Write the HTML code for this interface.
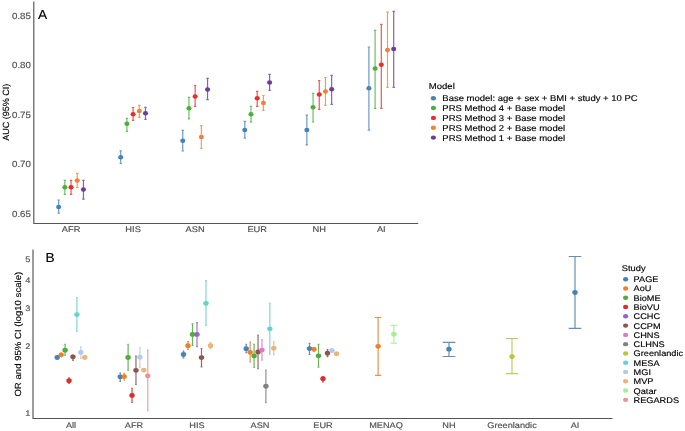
<!DOCTYPE html>
<html><head><meta charset="utf-8"><title>AUC and OR by ancestry</title>
<style>
html,body{margin:0;padding:0;background:#fff;}
body{width:685px;height:431px;overflow:hidden;}
svg{display:block;font-family:"Liberation Sans", sans-serif;will-change:transform;text-rendering:geometricPrecision;}
text{stroke-width:0.15px;stroke-linejoin:round;}
</style></head><body>
<svg width="685" height="431" viewBox="0 0 685 431">
<rect width="685" height="431" fill="#ffffff"/>
<path d="M33.8 1.4V223.5H418.2" fill="none" stroke="#555555" stroke-width="1.15" stroke-linejoin="round"/>
<text transform="translate(30.9,18.6) scale(1.08,1)" font-size="8.98" text-anchor="end" fill="#4d4d4d" stroke="#4d4d4d">0.85</text>
<text transform="translate(30.9,68.2) scale(1.08,1)" font-size="8.98" text-anchor="end" fill="#4d4d4d" stroke="#4d4d4d">0.80</text>
<text transform="translate(30.9,117.8) scale(1.08,1)" font-size="8.98" text-anchor="end" fill="#4d4d4d" stroke="#4d4d4d">0.75</text>
<text transform="translate(30.9,167.3) scale(1.08,1)" font-size="8.98" text-anchor="end" fill="#4d4d4d" stroke="#4d4d4d">0.70</text>
<text transform="translate(30.9,216.6) scale(1.08,1)" font-size="8.98" text-anchor="end" fill="#4d4d4d" stroke="#4d4d4d">0.65</text>
<text transform="translate(71.05,232) scale(1.13,1)" font-size="8.23" text-anchor="middle" fill="#4d4d4d" stroke="#4d4d4d">AFR</text>
<text transform="translate(133.1,232) scale(1.13,1)" font-size="8.23" text-anchor="middle" fill="#4d4d4d" stroke="#4d4d4d">HIS</text>
<text transform="translate(195.15,232) scale(1.13,1)" font-size="8.23" text-anchor="middle" fill="#4d4d4d" stroke="#4d4d4d">ASN</text>
<text transform="translate(257.2,232) scale(1.13,1)" font-size="8.23" text-anchor="middle" fill="#4d4d4d" stroke="#4d4d4d">EUR</text>
<text transform="translate(319.25,232) scale(1.13,1)" font-size="8.23" text-anchor="middle" fill="#4d4d4d" stroke="#4d4d4d">NH</text>
<text transform="translate(381.3,232) scale(1.13,1)" font-size="8.23" text-anchor="middle" fill="#4d4d4d" stroke="#4d4d4d">AI</text>
<text transform="translate(8.5,112.3) scale(1.0,1) rotate(-90)" font-size="9" text-anchor="middle" fill="#000" stroke="#000">AUC (95% CI)</text>
<text transform="translate(38,18.7) scale(1.05,1)" font-size="13.05" fill="#000" stroke="#000">A</text>
<path d="M57.45 200H59.85M58.65 200V213.1M57.45 213.1H59.85" stroke="#4682b4" stroke-width="1.2" stroke-opacity="0.8" fill="none"/>
<path d="M63.65 180.3H66.05M64.85 180.3V194.4M63.65 194.4H66.05" stroke="#4dae40" stroke-width="1.2" stroke-opacity="0.8" fill="none"/>
<path d="M69.85 180.3H72.25M71.05 180.3V194.4M69.85 194.4H72.25" stroke="#e3312a" stroke-width="1.2" stroke-opacity="0.8" fill="none"/>
<path d="M76.05 173.4H78.45M77.25 173.4V187.4M76.05 187.4H78.45" stroke="#ed8333" stroke-width="1.2" stroke-opacity="0.8" fill="none"/>
<path d="M82.25 180.3H84.65M83.45 180.3V199.2M82.25 199.2H84.65" stroke="#6b3c9c" stroke-width="1.2" stroke-opacity="0.8" fill="none"/>
<path d="M119.5 150.8H121.9M120.7 150.8V163.5M119.5 163.5H121.9" stroke="#4682b4" stroke-width="1.2" stroke-opacity="0.8" fill="none"/>
<path d="M125.7 118.3H128.1M126.9 118.3V131.3M125.7 131.3H128.1" stroke="#4dae40" stroke-width="1.2" stroke-opacity="0.8" fill="none"/>
<path d="M131.9 107.5H134.3M133.1 107.5V120.3M131.9 120.3H134.3" stroke="#e3312a" stroke-width="1.2" stroke-opacity="0.8" fill="none"/>
<path d="M138.1 105.3H140.5M139.3 105.3V117.3M138.1 117.3H140.5" stroke="#ed8333" stroke-width="1.2" stroke-opacity="0.8" fill="none"/>
<path d="M144.3 107.3H146.7M145.5 107.3V119.3M144.3 119.3H146.7" stroke="#6b3c9c" stroke-width="1.2" stroke-opacity="0.8" fill="none"/>
<path d="M181.55 130.3H183.95M182.75 130.3V151M181.55 151H183.95" stroke="#4682b4" stroke-width="1.2" stroke-opacity="0.8" fill="none"/>
<path d="M187.75 97.4H190.15M188.95 97.4V118.8M187.75 118.8H190.15" stroke="#4dae40" stroke-width="1.2" stroke-opacity="0.8" fill="none"/>
<path d="M193.95 85.5H196.35M195.15 85.5V106.3M193.95 106.3H196.35" stroke="#e3312a" stroke-width="1.2" stroke-opacity="0.8" fill="none"/>
<path d="M200.15 125.7H202.55M201.35 125.7V148.5M200.15 148.5H202.55" stroke="#ed8333" stroke-width="1.2" stroke-opacity="0.8" fill="none"/>
<path d="M206.35 78.3H208.75M207.55 78.3V99.6M206.35 99.6H208.75" stroke="#6b3c9c" stroke-width="1.2" stroke-opacity="0.8" fill="none"/>
<path d="M243.6 121.3H246M244.8 121.3V138.2M243.6 138.2H246" stroke="#4682b4" stroke-width="1.2" stroke-opacity="0.8" fill="none"/>
<path d="M249.8 106.4H252.2M251 106.4V122.2M249.8 122.2H252.2" stroke="#4dae40" stroke-width="1.2" stroke-opacity="0.8" fill="none"/>
<path d="M256 91.4H258.4M257.2 91.4V106.4M256 106.4H258.4" stroke="#e3312a" stroke-width="1.2" stroke-opacity="0.8" fill="none"/>
<path d="M262.2 95.5H264.6M263.4 95.5V110.3M262.2 110.3H264.6" stroke="#ed8333" stroke-width="1.2" stroke-opacity="0.8" fill="none"/>
<path d="M268.4 74.4H270.8M269.6 74.4V90.4M268.4 90.4H270.8" stroke="#6b3c9c" stroke-width="1.2" stroke-opacity="0.8" fill="none"/>
<path d="M305.65 115.2H308.05M306.85 115.2V144.9M305.65 144.9H308.05" stroke="#4682b4" stroke-width="1.2" stroke-opacity="0.8" fill="none"/>
<path d="M311.85 93.4H314.25M313.05 93.4V122M311.85 122H314.25" stroke="#4dae40" stroke-width="1.2" stroke-opacity="0.8" fill="none"/>
<path d="M318.05 80.5H320.45M319.25 80.5V109.4M318.05 109.4H320.45" stroke="#e3312a" stroke-width="1.2" stroke-opacity="0.8" fill="none"/>
<path d="M324.25 77.5H326.65M325.45 77.5V105.3M324.25 105.3H326.65" stroke="#ed8333" stroke-width="1.2" stroke-opacity="0.8" fill="none"/>
<path d="M330.45 75.4H332.85M331.65 75.4V104.4M330.45 104.4H332.85" stroke="#6b3c9c" stroke-width="1.2" stroke-opacity="0.8" fill="none"/>
<path d="M367.7 47H370.1M368.9 47V130.2M367.7 130.2H370.1" stroke="#4682b4" stroke-width="1.2" stroke-opacity="0.8" fill="none"/>
<path d="M373.9 30.4H376.3M375.1 30.4V108.3M373.9 108.3H376.3" stroke="#4dae40" stroke-width="1.2" stroke-opacity="0.8" fill="none"/>
<path d="M380.1 24.4H382.5M381.3 24.4V108.3M380.1 108.3H382.5" stroke="#e3312a" stroke-width="1.2" stroke-opacity="0.8" fill="none"/>
<path d="M386.3 12.2H388.7M387.5 12.2V87.4M386.3 87.4H388.7" stroke="#ed8333" stroke-width="1.2" stroke-opacity="0.8" fill="none"/>
<path d="M392.5 11.4H394.9M393.7 11.4V87.4M392.5 87.4H394.9" stroke="#6b3c9c" stroke-width="1.2" stroke-opacity="0.8" fill="none"/>
<ellipse cx="58.65" cy="207" rx="2.55" ry="2.25" fill="#4682B4"/>
<ellipse cx="64.85" cy="187.2" rx="2.55" ry="2.25" fill="#4DAE40"/>
<ellipse cx="71.05" cy="187.2" rx="2.55" ry="2.25" fill="#E3312A"/>
<ellipse cx="77.25" cy="180.4" rx="2.55" ry="2.25" fill="#ED8333"/>
<ellipse cx="83.45" cy="189.5" rx="2.55" ry="2.25" fill="#6B3C9C"/>
<ellipse cx="120.7" cy="157.3" rx="2.55" ry="2.25" fill="#4682B4"/>
<ellipse cx="126.9" cy="123.8" rx="2.55" ry="2.25" fill="#4DAE40"/>
<ellipse cx="133.1" cy="114.2" rx="2.55" ry="2.25" fill="#E3312A"/>
<ellipse cx="139.3" cy="111" rx="2.55" ry="2.25" fill="#ED8333"/>
<ellipse cx="145.5" cy="113.2" rx="2.55" ry="2.25" fill="#6B3C9C"/>
<ellipse cx="182.75" cy="140.8" rx="2.55" ry="2.25" fill="#4682B4"/>
<ellipse cx="188.95" cy="108.2" rx="2.55" ry="2.25" fill="#4DAE40"/>
<ellipse cx="195.15" cy="96.5" rx="2.55" ry="2.25" fill="#E3312A"/>
<ellipse cx="201.35" cy="136.9" rx="2.55" ry="2.25" fill="#ED8333"/>
<ellipse cx="207.55" cy="89.4" rx="2.55" ry="2.25" fill="#6B3C9C"/>
<ellipse cx="244.8" cy="130.1" rx="2.55" ry="2.25" fill="#4682B4"/>
<ellipse cx="251" cy="114.3" rx="2.55" ry="2.25" fill="#4DAE40"/>
<ellipse cx="257.2" cy="98.3" rx="2.55" ry="2.25" fill="#E3312A"/>
<ellipse cx="263.4" cy="103.1" rx="2.55" ry="2.25" fill="#ED8333"/>
<ellipse cx="269.6" cy="82.6" rx="2.55" ry="2.25" fill="#6B3C9C"/>
<ellipse cx="306.85" cy="130" rx="2.55" ry="2.25" fill="#4682B4"/>
<ellipse cx="313.05" cy="107.3" rx="2.55" ry="2.25" fill="#4DAE40"/>
<ellipse cx="319.25" cy="94.4" rx="2.55" ry="2.25" fill="#E3312A"/>
<ellipse cx="325.45" cy="91.4" rx="2.55" ry="2.25" fill="#ED8333"/>
<ellipse cx="331.65" cy="89.2" rx="2.55" ry="2.25" fill="#6B3C9C"/>
<ellipse cx="368.9" cy="88.2" rx="2.55" ry="2.25" fill="#4682B4"/>
<ellipse cx="375.1" cy="68.5" rx="2.55" ry="2.25" fill="#4DAE40"/>
<ellipse cx="381.3" cy="64.7" rx="2.55" ry="2.25" fill="#E3312A"/>
<ellipse cx="387.5" cy="49.9" rx="2.55" ry="2.25" fill="#ED8333"/>
<ellipse cx="393.7" cy="48.9" rx="2.55" ry="2.25" fill="#6B3C9C"/>
<text transform="translate(428.8,89.3) scale(1.13,1)" font-size="8.45" fill="#000" stroke="#000">Model</text>
<ellipse cx="433.4" cy="98.2" rx="2.6" ry="2.2" fill="#4682B4"/>
<text transform="translate(442.3,101.3) scale(1.13,1)" font-size="8.41" fill="#000" stroke="#000">Base model: age + sex + BMI + study + 10 PC</text>
<ellipse cx="433.4" cy="108.05" rx="2.6" ry="2.2" fill="#4DAE40"/>
<text transform="translate(442.3,111.15) scale(1.13,1)" font-size="8.41" fill="#000" stroke="#000">PRS Method 4 + Base model</text>
<ellipse cx="433.4" cy="117.9" rx="2.6" ry="2.2" fill="#E3312A"/>
<text transform="translate(442.3,121) scale(1.13,1)" font-size="8.41" fill="#000" stroke="#000">PRS Method 3 + Base model</text>
<ellipse cx="433.4" cy="127.75" rx="2.6" ry="2.2" fill="#ED8333"/>
<text transform="translate(442.3,130.85) scale(1.13,1)" font-size="8.41" fill="#000" stroke="#000">PRS Method 2 + Base model</text>
<ellipse cx="433.4" cy="137.6" rx="2.6" ry="2.2" fill="#6B3C9C"/>
<text transform="translate(442.3,140.7) scale(1.13,1)" font-size="8.41" fill="#000" stroke="#000">PRS Method 1 + Base model</text>
<path d="M33.0 249.4V418.5H612.5" fill="none" stroke="#555555" stroke-width="1.15" stroke-linejoin="round"/>
<text transform="translate(30.4,415.6) scale(1.13,1)" font-size="8.14" text-anchor="end" fill="#4d4d4d" stroke="#4d4d4d">1</text>
<text transform="translate(30.4,349.43) scale(1.13,1)" font-size="8.14" text-anchor="end" fill="#4d4d4d" stroke="#4d4d4d">2</text>
<text transform="translate(30.4,310.73) scale(1.13,1)" font-size="8.14" text-anchor="end" fill="#4d4d4d" stroke="#4d4d4d">3</text>
<text transform="translate(30.4,283.27) scale(1.13,1)" font-size="8.14" text-anchor="end" fill="#4d4d4d" stroke="#4d4d4d">4</text>
<text transform="translate(30.4,261.97) scale(1.13,1)" font-size="8.14" text-anchor="end" fill="#4d4d4d" stroke="#4d4d4d">5</text>
<text transform="translate(71,428) scale(1.13,1)" font-size="8.14" text-anchor="middle" fill="#4d4d4d" stroke="#4d4d4d">All</text>
<text transform="translate(134,428) scale(1.13,1)" font-size="8.14" text-anchor="middle" fill="#4d4d4d" stroke="#4d4d4d">AFR</text>
<text transform="translate(197,428) scale(1.13,1)" font-size="8.14" text-anchor="middle" fill="#4d4d4d" stroke="#4d4d4d">HIS</text>
<text transform="translate(260,428) scale(1.13,1)" font-size="8.14" text-anchor="middle" fill="#4d4d4d" stroke="#4d4d4d">ASN</text>
<text transform="translate(323,428) scale(1.13,1)" font-size="8.14" text-anchor="middle" fill="#4d4d4d" stroke="#4d4d4d">EUR</text>
<text transform="translate(386,428) scale(1.13,1)" font-size="8.14" text-anchor="middle" fill="#4d4d4d" stroke="#4d4d4d">MENAQ</text>
<text transform="translate(449,428) scale(1.13,1)" font-size="8.14" text-anchor="middle" fill="#4d4d4d" stroke="#4d4d4d">NH</text>
<text transform="translate(512,428) scale(1.13,1)" font-size="8.14" text-anchor="middle" fill="#4d4d4d" stroke="#4d4d4d">Greenlandic</text>
<text transform="translate(575,428) scale(1.13,1)" font-size="8.14" text-anchor="middle" fill="#4d4d4d" stroke="#4d4d4d">AI</text>
<text transform="translate(21.25,334.2) scale(0.92,1) rotate(-90)" font-size="9.6" text-anchor="middle" fill="#000" stroke="#000">OR and 95% CI (log10 scale)</text>
<text transform="translate(45.5,262.1) scale(1.05,1)" font-size="13.05" fill="#000" stroke="#000">B</text>
<path d="M56.43 355.6H58.01M57.22 355.6V359.2M56.43 359.2H58.01" stroke="#4e80a9" stroke-width="1.2" stroke-opacity="0.88" fill="none"/>
<path d="M60.37 353H61.94M61.16 353V356.6M60.37 356.6H61.94" stroke="#de853b" stroke-width="1.2" stroke-opacity="0.88" fill="none"/>
<path d="M64.31 344.4H65.88M65.09 344.4V355.5M64.31 355.5H65.88" stroke="#59a646" stroke-width="1.2" stroke-opacity="0.88" fill="none"/>
<path d="M68.24 377.8H69.82M69.03 377.8V383.5M68.24 383.5H69.82" stroke="#c33737" stroke-width="1.2" stroke-opacity="0.88" fill="none"/>
<path d="M72.18 355H73.76M72.97 355V360.3M72.18 360.3H73.76" stroke="#845853" stroke-width="1.2" stroke-opacity="0.88" fill="none"/>
<path d="M76.12 297.5H77.69M76.91 297.5V331.4M76.12 331.4H77.69" stroke="#72cdcd" stroke-width="1.2" stroke-opacity="0.88" fill="none"/>
<path d="M80.06 346.7H81.63M80.84 346.7V358.4M80.06 358.4H81.63" stroke="#b6cae4" stroke-width="1.2" stroke-opacity="0.88" fill="none"/>
<path d="M83.99 355.8H85.57M84.78 355.8V359M83.99 359H85.57" stroke="#e4b686" stroke-width="1.2" stroke-opacity="0.88" fill="none"/>
<path d="M119.43 373.2H121.01M120.22 373.2V381.3M119.43 381.3H121.01" stroke="#4e80a9" stroke-width="1.2" stroke-opacity="0.88" fill="none"/>
<path d="M123.37 373.3H124.94M124.16 373.3V380M123.37 380H124.94" stroke="#de853b" stroke-width="1.2" stroke-opacity="0.88" fill="none"/>
<path d="M127.31 344.4H128.88M128.09 344.4V370.5M127.31 370.5H128.88" stroke="#59a646" stroke-width="1.2" stroke-opacity="0.88" fill="none"/>
<path d="M131.24 388.4H132.82M132.03 388.4V402.4M131.24 402.4H132.82" stroke="#c33737" stroke-width="1.2" stroke-opacity="0.88" fill="none"/>
<path d="M135.18 356.2H136.76M135.97 356.2V384.4M135.18 384.4H136.76" stroke="#845853" stroke-width="1.2" stroke-opacity="0.88" fill="none"/>
<path d="M139.12 347.3H140.69M139.91 347.3V367.4M139.12 367.4H140.69" stroke="#b6cae4" stroke-width="1.2" stroke-opacity="0.88" fill="none"/>
<path d="M143.06 368.5H144.63M143.84 368.5V371.7M143.06 371.7H144.63" stroke="#e4b686" stroke-width="1.2" stroke-opacity="0.88" fill="none"/>
<path d="M146.99 350.1H148.57M147.78 350.1V410.6M146.99 410.6H148.57" stroke="#e39797" stroke-width="1.2" stroke-opacity="0.88" fill="none"/>
<path d="M182.6 351H184.4M183.5 351V357.8M182.6 357.8H184.4" stroke="#4e80a9" stroke-width="1.2" stroke-opacity="0.88" fill="none"/>
<path d="M187.1 341.6H188.9M188 341.6V349.5M187.1 349.5H188.9" stroke="#de853b" stroke-width="1.2" stroke-opacity="0.88" fill="none"/>
<path d="M191.6 323.9H193.4M192.5 323.9V345.4M191.6 345.4H193.4" stroke="#59a646" stroke-width="1.2" stroke-opacity="0.88" fill="none"/>
<path d="M196.1 322.7H197.9M197 322.7V346.7M196.1 346.7H197.9" stroke="#9069b9" stroke-width="1.2" stroke-opacity="0.88" fill="none"/>
<path d="M200.6 348.5H202.4M201.5 348.5V366.8M200.6 366.8H202.4" stroke="#845853" stroke-width="1.2" stroke-opacity="0.88" fill="none"/>
<path d="M205.1 280.5H206.9M206 280.5V325.5M205.1 325.5H206.9" stroke="#72cdcd" stroke-width="1.2" stroke-opacity="0.88" fill="none"/>
<path d="M209.6 342.6H211.4M210.5 342.6V348.8M209.6 348.8H211.4" stroke="#e4b686" stroke-width="1.2" stroke-opacity="0.88" fill="none"/>
<path d="M245.43 344.3H247.01M246.22 344.3V352.6M245.43 352.6H247.01" stroke="#4e80a9" stroke-width="1.2" stroke-opacity="0.88" fill="none"/>
<path d="M249.37 342.1H250.94M250.16 342.1V361.9M249.37 361.9H250.94" stroke="#de853b" stroke-width="1.2" stroke-opacity="0.88" fill="none"/>
<path d="M253.31 344.3H254.88M254.09 344.3V367.3M253.31 367.3H254.88" stroke="#59a646" stroke-width="1.2" stroke-opacity="0.88" fill="none"/>
<path d="M257.24 335.2H258.82M258.03 335.2V368.6M257.24 368.6H258.82" stroke="#845853" stroke-width="1.2" stroke-opacity="0.88" fill="none"/>
<path d="M261.18 339.6H262.76M261.97 339.6V360.2M261.18 360.2H262.76" stroke="#d280c4" stroke-width="1.2" stroke-opacity="0.88" fill="none"/>
<path d="M265.12 370.2H266.69M265.91 370.2V402.7M265.12 402.7H266.69" stroke="#808280" stroke-width="1.2" stroke-opacity="0.88" fill="none"/>
<path d="M269.06 303.4H270.63M269.84 303.4V354.2M269.06 354.2H270.63" stroke="#72cdcd" stroke-width="1.2" stroke-opacity="0.88" fill="none"/>
<path d="M272.99 341.5H274.57M273.78 341.5V354.7M272.99 354.7H274.57" stroke="#e4b686" stroke-width="1.2" stroke-opacity="0.88" fill="none"/>
<path d="M308.6 343.3H310.4M309.5 343.3V354.4M308.6 354.4H310.4" stroke="#4e80a9" stroke-width="1.2" stroke-opacity="0.88" fill="none"/>
<path d="M313.1 347.6H314.9M314 347.6V351M313.1 351H314.9" stroke="#de853b" stroke-width="1.2" stroke-opacity="0.88" fill="none"/>
<path d="M317.6 344.3H319.4M318.5 344.3V367.1M317.6 367.1H319.4" stroke="#59a646" stroke-width="1.2" stroke-opacity="0.88" fill="none"/>
<path d="M322.1 376.5H323.9M323 376.5V381.9M322.1 381.9H323.9" stroke="#c33737" stroke-width="1.2" stroke-opacity="0.88" fill="none"/>
<path d="M326.6 349.7H328.4M327.5 349.7V356.6M326.6 356.6H328.4" stroke="#845853" stroke-width="1.2" stroke-opacity="0.88" fill="none"/>
<path d="M331.1 349H332.9M332 349V352.2M331.1 352.2H332.9" stroke="#b6cae4" stroke-width="1.2" stroke-opacity="0.88" fill="none"/>
<path d="M335.6 352.2H337.4M336.5 352.2V355.4M335.6 355.4H337.4" stroke="#e4b686" stroke-width="1.2" stroke-opacity="0.88" fill="none"/>
<path d="M374.98 317.5H381.27M378.12 317.5V375.3M374.98 375.3H381.27" stroke="#de853b" stroke-width="1.2" stroke-opacity="0.88" fill="none"/>
<path d="M390.73 325.4H397.02M393.88 325.4V343.1M390.73 343.1H397.02" stroke="#ade99d" stroke-width="1.2" stroke-opacity="0.88" fill="none"/>
<path d="M442.7 342.3H455.3M449 342.3V356.5M442.7 356.5H455.3" stroke="#4e80a9" stroke-width="1.2" stroke-opacity="0.88" fill="none"/>
<path d="M505.7 338.5H518.3M512 338.5V373.7M505.7 373.7H518.3" stroke="#b8c250" stroke-width="1.2" stroke-opacity="0.88" fill="none"/>
<path d="M568.7 256.5H581.3M575 256.5V328.3M568.7 328.3H581.3" stroke="#4e80a9" stroke-width="1.2" stroke-opacity="0.88" fill="none"/>
<ellipse cx="57.22" cy="357.4" rx="2.7" ry="2.4" fill="#4483B6"/>
<ellipse cx="61.16" cy="354.8" rx="2.7" ry="2.4" fill="#F08024"/>
<ellipse cx="65.09" cy="350.2" rx="2.7" ry="2.4" fill="#4EAF37"/>
<ellipse cx="69.03" cy="380.7" rx="2.7" ry="2.4" fill="#DC2D2D"/>
<ellipse cx="72.97" cy="356.8" rx="2.7" ry="2.4" fill="#8C554E"/>
<ellipse cx="76.91" cy="314.6" rx="2.7" ry="2.4" fill="#62D4D4"/>
<ellipse cx="80.84" cy="352.4" rx="2.7" ry="2.4" fill="#B2CBEB"/>
<ellipse cx="84.78" cy="357.4" rx="2.7" ry="2.4" fill="#EDB478"/>
<ellipse cx="120.22" cy="376.8" rx="2.7" ry="2.4" fill="#4483B6"/>
<ellipse cx="124.16" cy="376.6" rx="2.7" ry="2.4" fill="#F08024"/>
<ellipse cx="128.09" cy="357.4" rx="2.7" ry="2.4" fill="#4EAF37"/>
<ellipse cx="132.03" cy="395.4" rx="2.7" ry="2.4" fill="#DC2D2D"/>
<ellipse cx="135.97" cy="370.3" rx="2.7" ry="2.4" fill="#8C554E"/>
<ellipse cx="139.91" cy="357.2" rx="2.7" ry="2.4" fill="#B2CBEB"/>
<ellipse cx="143.84" cy="370.1" rx="2.7" ry="2.4" fill="#EDB478"/>
<ellipse cx="147.78" cy="375.8" rx="2.7" ry="2.4" fill="#F09191"/>
<ellipse cx="183.5" cy="354.4" rx="2.7" ry="2.4" fill="#4483B6"/>
<ellipse cx="188" cy="345.7" rx="2.7" ry="2.4" fill="#F08024"/>
<ellipse cx="192.5" cy="334.4" rx="2.7" ry="2.4" fill="#4EAF37"/>
<ellipse cx="197" cy="334.4" rx="2.7" ry="2.4" fill="#9464C8"/>
<ellipse cx="201.5" cy="357.6" rx="2.7" ry="2.4" fill="#8C554E"/>
<ellipse cx="206" cy="303.3" rx="2.7" ry="2.4" fill="#62D4D4"/>
<ellipse cx="210.5" cy="345.7" rx="2.7" ry="2.4" fill="#EDB478"/>
<ellipse cx="246.22" cy="348.7" rx="2.7" ry="2.4" fill="#4483B6"/>
<ellipse cx="250.16" cy="352.3" rx="2.7" ry="2.4" fill="#F08024"/>
<ellipse cx="254.09" cy="355.9" rx="2.7" ry="2.4" fill="#4EAF37"/>
<ellipse cx="258.03" cy="351.9" rx="2.7" ry="2.4" fill="#8C554E"/>
<ellipse cx="261.97" cy="350.1" rx="2.7" ry="2.4" fill="#DE78CD"/>
<ellipse cx="265.91" cy="386.2" rx="2.7" ry="2.4" fill="#808280"/>
<ellipse cx="269.84" cy="328.8" rx="2.7" ry="2.4" fill="#62D4D4"/>
<ellipse cx="273.78" cy="348.2" rx="2.7" ry="2.4" fill="#EDB478"/>
<ellipse cx="309.5" cy="348.6" rx="2.7" ry="2.4" fill="#4483B6"/>
<ellipse cx="314" cy="349.3" rx="2.7" ry="2.4" fill="#F08024"/>
<ellipse cx="318.5" cy="355.8" rx="2.7" ry="2.4" fill="#4EAF37"/>
<ellipse cx="323" cy="378.7" rx="2.7" ry="2.4" fill="#DC2D2D"/>
<ellipse cx="327.5" cy="353.2" rx="2.7" ry="2.4" fill="#8C554E"/>
<ellipse cx="332" cy="350.6" rx="2.7" ry="2.4" fill="#B2CBEB"/>
<ellipse cx="336.5" cy="353.8" rx="2.7" ry="2.4" fill="#EDB478"/>
<ellipse cx="378.12" cy="346.3" rx="2.7" ry="2.4" fill="#F08024"/>
<ellipse cx="393.88" cy="334.2" rx="2.7" ry="2.4" fill="#A5F091"/>
<ellipse cx="449" cy="349.2" rx="2.7" ry="2.4" fill="#4483B6"/>
<ellipse cx="512" cy="356.6" rx="2.7" ry="2.4" fill="#B9C637"/>
<ellipse cx="575" cy="292.5" rx="2.7" ry="2.4" fill="#4483B6"/>
<text transform="translate(621.8,270.6) scale(1.13,1)" font-size="8.23" fill="#000" stroke="#000">Study</text>
<ellipse cx="625.6" cy="279.2" rx="2.6" ry="2.2" fill="#4483B6"/>
<text transform="translate(633.6,282.2) scale(1.13,1)" font-size="8.14" fill="#000" stroke="#000">PAGE</text>
<ellipse cx="625.6" cy="288.48" rx="2.6" ry="2.2" fill="#F08024"/>
<text transform="translate(633.6,291.48) scale(1.13,1)" font-size="8.14" fill="#000" stroke="#000">AoU</text>
<ellipse cx="625.6" cy="297.76" rx="2.6" ry="2.2" fill="#4EAF37"/>
<text transform="translate(633.6,300.76) scale(1.13,1)" font-size="8.14" fill="#000" stroke="#000">BioME</text>
<ellipse cx="625.6" cy="307.04" rx="2.6" ry="2.2" fill="#DC2D2D"/>
<text transform="translate(633.6,310.04) scale(1.13,1)" font-size="8.14" fill="#000" stroke="#000">BioVU</text>
<ellipse cx="625.6" cy="316.32" rx="2.6" ry="2.2" fill="#9464C8"/>
<text transform="translate(633.6,319.32) scale(1.13,1)" font-size="8.14" fill="#000" stroke="#000">CCHC</text>
<ellipse cx="625.6" cy="325.6" rx="2.6" ry="2.2" fill="#8C554E"/>
<text transform="translate(633.6,328.6) scale(1.13,1)" font-size="8.14" fill="#000" stroke="#000">CCPM</text>
<ellipse cx="625.6" cy="334.88" rx="2.6" ry="2.2" fill="#DE78CD"/>
<text transform="translate(633.6,337.88) scale(1.13,1)" font-size="8.14" fill="#000" stroke="#000">CHNS</text>
<ellipse cx="625.6" cy="344.16" rx="2.6" ry="2.2" fill="#808280"/>
<text transform="translate(633.6,347.16) scale(1.13,1)" font-size="8.14" fill="#000" stroke="#000">CLHNS</text>
<ellipse cx="625.6" cy="353.44" rx="2.6" ry="2.2" fill="#B9C637"/>
<text transform="translate(633.6,356.44) scale(1.13,1)" font-size="8.14" fill="#000" stroke="#000">Greenlandic</text>
<ellipse cx="625.6" cy="362.72" rx="2.6" ry="2.2" fill="#62D4D4"/>
<text transform="translate(633.6,365.72) scale(1.13,1)" font-size="8.14" fill="#000" stroke="#000">MESA</text>
<ellipse cx="625.6" cy="372" rx="2.6" ry="2.2" fill="#B2CBEB"/>
<text transform="translate(633.6,375) scale(1.13,1)" font-size="8.14" fill="#000" stroke="#000">MGI</text>
<ellipse cx="625.6" cy="381.28" rx="2.6" ry="2.2" fill="#EDB478"/>
<text transform="translate(633.6,384.28) scale(1.13,1)" font-size="8.14" fill="#000" stroke="#000">MVP</text>
<ellipse cx="625.6" cy="390.56" rx="2.6" ry="2.2" fill="#A5F091"/>
<text transform="translate(633.6,393.56) scale(1.13,1)" font-size="8.14" fill="#000" stroke="#000">Qatar</text>
<ellipse cx="625.6" cy="399.84" rx="2.6" ry="2.2" fill="#F09191"/>
<text transform="translate(633.6,402.84) scale(1.13,1)" font-size="8.14" fill="#000" stroke="#000">REGARDS</text>
</svg>
</body></html>
